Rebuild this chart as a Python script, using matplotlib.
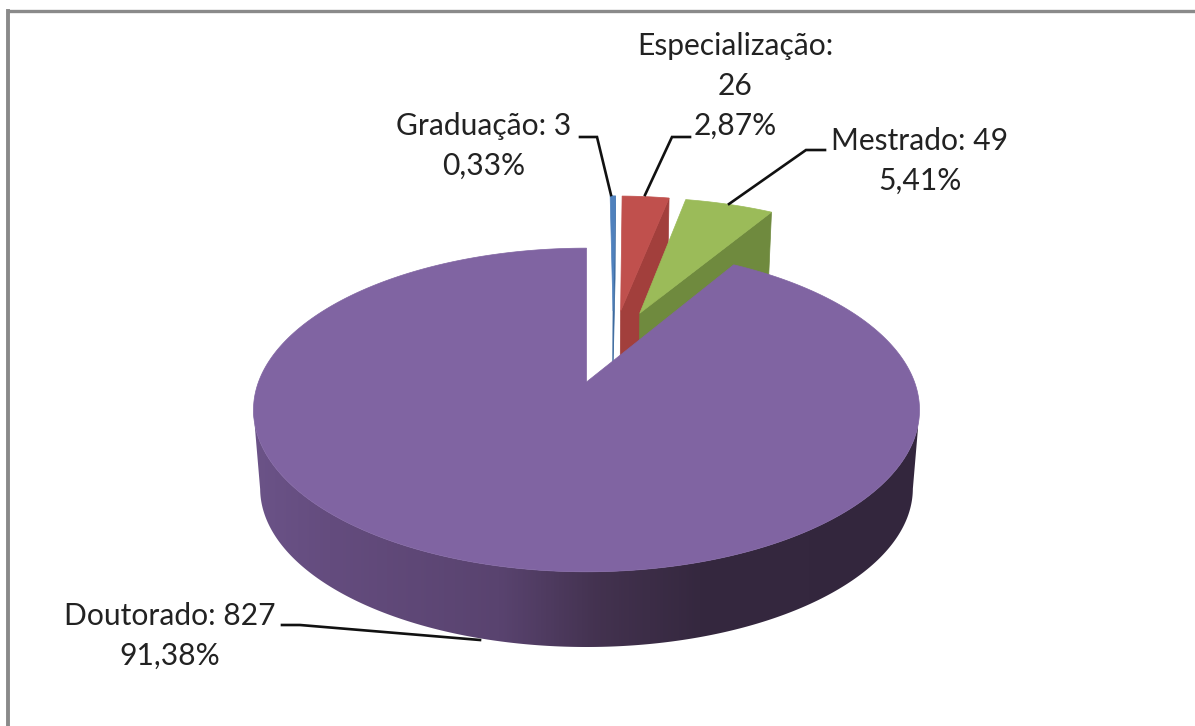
import numpy as np
import matplotlib
matplotlib.use("Agg")
import matplotlib.pyplot as plt
from matplotlib.colors import LinearSegmentedColormap
from matplotlib.patches import Polygon

# ---- data -------------------------------------------------------------
categories = ["Graduação", "Especialização", "Mestrado", "Doutorado"]
counts = [3, 26, 49, 827]
percent_labels = ["0,33%", "2,87%", "5,41%", "91,38%"]

# ---- style ------------------------------------------------------------
top_colors = ["#4f81bd", "#c0504d", "#9bbb59", "#8064a2"]
cut_colors = ["#3c6a9f", "#a23f3c", "#6f8a3e", "#4a3a60"]
wall_stops_x = [252, 330, 500, 600, 700, 918]
wall_stops_c = ["#6b5388", "#644c7e", "#59436f", "#43324f", "#35283f", "#33263d"]
text_color = "#222222"
frame_color = "#8a8a8a"

# ---- projection of the tilted pie --------------------------------------
APEX_X, APEX_Y = 586.5, 382
SMALL_SLICE_DX = 5.5
SCALE_U, SCALE_V, PERSP = 328, 157, 0.1728
DEPTH, DEPTH_SCALE = 79, 0.98
EXPLODE = 0.25


def project(u, v, lower=False, dx=0.0):
    den = 1 + PERSP * np.asarray(v)
    s = DEPTH_SCALE if lower else 1.0
    dy = DEPTH if lower else 0
    return (APEX_X + dx + s * SCALE_U * np.asarray(u) / den,
            APEX_Y + dy - s * SCALE_V * np.asarray(v) / den)


total = sum(counts)
edges = np.concatenate([[0], np.cumsum(counts)]) / total * 2 * np.pi
mid_last = (edges[-2] + edges[-1]) / 2
centre = (-EXPLODE * np.sin(mid_last), -EXPLODE * np.cos(mid_last))

fig = plt.figure(figsize=(11.95, 7.26), dpi=100, facecolor="white")
ax = fig.add_axes([0, 0, 1, 1])
ax.axis("off")


def slice_geometry(i, n=160):
    a0, a1 = edges[i], edges[i + 1]
    mid = (a0 + a1) / 2
    ou = centre[0] + EXPLODE * np.sin(mid)
    ov = centre[1] + EXPLODE * np.cos(mid)
    th = np.linspace(a0, a1, n)
    return ou, ov, ou + np.sin(th), ov + np.cos(th)


# exploded small slices (drawn back to front)
for i in range(3):
    ou, ov, ru, rv = slice_geometry(i, 40)
    x1, y1 = project([ou, ru[-1]], [ov, rv[-1]], dx=SMALL_SLICE_DX)
    x2, y2 = project([ru[-1], ou], [rv[-1], ov], lower=True, dx=SMALL_SLICE_DX)
    ax.fill(np.r_[x1, x2], np.r_[y1, y2], color=cut_colors[i], lw=0.5, zorder=2 + i)
    x, y = project(np.r_[ou, ru], np.r_[ov, rv], dx=SMALL_SLICE_DX)
    ax.fill(x, y, color=top_colors[i], lw=0.5, zorder=2 + i)

# large slice: shaded front wall then top
i = 3
ou, ov, ru, rv = slice_geometry(i, 720)
idx = np.where(rv - ov <= -PERSP)[0]
tx, ty = project(ru[idx], rv[idx])
bx, by = project(ru[idx], rv[idx], lower=True)
wall_xy = np.column_stack([np.r_[tx, bx[::-1]], np.r_[ty, by[::-1]]])
span = wall_stops_x[-1] - wall_stops_x[0]
cmap = LinearSegmentedColormap.from_list(
    "wall", [((p - wall_stops_x[0]) / span, c) for p, c in zip(wall_stops_x, wall_stops_c)])
im = ax.imshow(np.linspace(0, 1, 512)[None, :], cmap=cmap, aspect="auto", vmin=0, vmax=1,
               extent=(wall_stops_x[0], wall_stops_x[-1], by.max() + 2, ty.min() - 2), zorder=6)
clip = Polygon(wall_xy, closed=True, transform=ax.transData, fc="none", ec="none")
ax.add_patch(clip)
im.set_clip_path(clip)
x, y = project(np.r_[ou, ru], np.r_[ov, rv])
ax.fill(x, y, color=top_colors[i], lw=0.5, zorder=7)

ax.set_xlim(0, 1195)
ax.set_ylim(726, 0)

# frame (only left and top edges are inside the crop)
ax.plot([8, 8], [726, 10.5], color=frame_color, lw=2.8, solid_capstyle="projecting", zorder=1)
ax.plot([8, 1195], [10.5, 10.5], color=frame_color, lw=2.4, solid_capstyle="butt", zorder=1)

# labels
label_lines = [
    [f"{categories[0]}: {counts[0]}", percent_labels[0]],
    [f"{categories[1]}:", f"{counts[1]}", percent_labels[1]],
    [f"{categories[2]}: {counts[2]}", percent_labels[2]],
    [f"{categories[3]}: {counts[3]}", percent_labels[3]],
]
label_x = [484, 735, 920, 170]
label_first_baseline = [135, 55, 150, 625]
LINE_GAP = 40
leaders = [
    ([580, 597, 611], [137, 137, 195]),
    ([690, 672, 645], [137, 137, 195]),
    ([825, 806, 729], [150, 150, 204]),
    ([282, 300, 480], [625, 625, 640]),
]
for lines, px, py, (lx, ly) in zip(label_lines, label_x, label_first_baseline, leaders):
    for k, s in enumerate(lines):
        ax.text(px, py + k * LINE_GAP, s, ha="center", va="baseline", family="Lato",
                fontsize=21.6, color=text_color, zorder=10)
    ax.plot(lx, ly, color="#111111", lw=1.9, solid_joinstyle="miter", zorder=9)

fig.savefig("out.png", dpi=100, facecolor="white")
